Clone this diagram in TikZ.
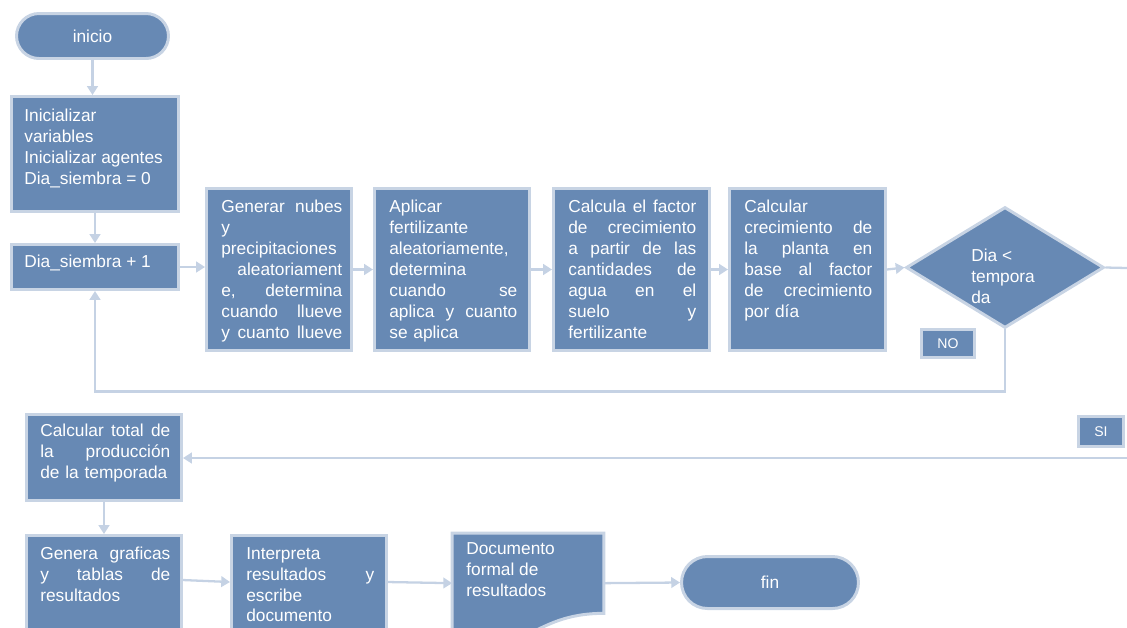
\documentclass[tikz,border=0pt]{standalone}
\usepackage{fontspec}
\setmainfont{Liberation Sans}
\usetikzlibrary{arrows.meta,shapes.geometric,calc}
\definecolor{boxfill}{RGB}{103,137,180}
\definecolor{boxedge}{RGB}{200,212,228}
\definecolor{linec}{RGB}{197,210,228}
\newcommand{\mainfs}{\fontsize{9.85pt}{11.9pt}\selectfont}
\newcommand{\smallfs}{\fontsize{8pt}{9.6pt}\selectfont}
\begin{document}
\begin{tikzpicture}[x=0.02cm,y=-0.02cm,
  box/.style={draw=boxedge, line width=1.7pt, fill=boxfill, rectangle, inner sep=0pt},
  term/.style={box, rounded corners=#1, text=white, font=\mainfs},
  txt/.style={inner sep=0pt, anchor=north west, text=white, align=left, font=\mainfs},
  tag/.style={box, line width=1.2pt, text=white, font=\smallfs},
  link/.style={draw=linec, line width=1.3pt},
  arr/.style={link, -{Triangle[length=5pt,width=6pt]}},
]
\useasboundingbox (0,0) rectangle (1127,627);
\clip (0,0) rectangle (1127,627);

% nodes
\node[term=0.45cm, minimum width=3.04cm, minimum height=0.9cm] (inicio) at (92.5,36) {inicio};
\node[box, minimum width=3.34cm, minimum height=2.3cm] (init) at (95,154) {};
\node[box, minimum width=3.34cm, minimum height=0.9cm] (dia) at (95,267) {};
\node[box, minimum width=2.9cm, minimum height=3.24cm] (gen) at (279,269.5) {};
\node[box, minimum width=3.1cm, minimum height=3.24cm] (apl) at (452,269.5) {};
\node[box, minimum width=3.12cm, minimum height=3.24cm] (cal1) at (631.5,269.5) {};
\node[box, minimum width=3.12cm, minimum height=3.24cm] (cal2) at (807.5,269.5) {};
\node[box, shape=diamond, minimum width=3.96cm, minimum height=2.42cm] (dec) at (1005,267.5) {};
\node[tag, minimum width=1.06cm, minimum height=0.56cm] (no) at (948,343.5) {NO};
\node[tag, minimum width=0.9cm, minimum height=0.6cm] (si) at (1101,431.5) {SI};
\node[box, minimum width=3.1cm, minimum height=1.72cm] (tot) at (104,457.5) {};
\node[box, minimum width=3.1cm, minimum height=2.98cm] (gra) at (104,610) {};
\node[box, minimum width=3.1cm, minimum height=2.98cm] (int) at (309,610) {};
\node[inner sep=0pt, minimum width=3.02cm, minimum height=1.59cm] (doc) at (528,573.25) {};
\fill[boxfill] (doc.north west) -- (doc.north east) -- (doc.south east)
  .. controls ($(doc.south)+(0,0)$) and ($(doc.south)+(0,48)$) .. ($(doc.south west)+(0,22)$) -- cycle;
\draw[boxedge, line width=1.7pt] ($(doc.south west)+(0,22)$) -- (doc.north west) -- (doc.north east) -- (doc.south east)
  .. controls ($(doc.south)+(0,0)$) and ($(doc.south)+(0,48)$) .. ($(doc.south west)+(0,22)$);
\node[term=0.52cm, minimum width=3.54cm, minimum height=1.04cm] (fin) at (770,582.5) {fin};

% texts
\node[txt] (init-t) at (24,109) {Inicializar\\variables\\Inicializar agentes\\Dia\_siembra = 0};
\node[txt] (dia-t) at (24,255) {Dia\_siembra + 1};
\node[txt, text width=2.42cm] (gen-t) at (221,200) {Generar \hfill nubes\\y\\precipitaciones\\\hfill aleatoriament\\e, \hfill determina\\cuando \hfill llueve\\y \hfill cuanto \hfill llueve};
\node[txt, text width=2.56cm] (apl-t) at (389,200) {Aplicar\\fertilizante\\aleatoriamente,\\determina\\cuando \hfill se\\aplica \hfill y \hfill cuanto\\se aplica};
\node[txt, text width=2.56cm] (cal1-t) at (568,200) {Calcula \hfill el \hfill factor\\de \hfill crecimiento\\a \hfill partir \hfill de \hfill las\\cantidades \hfill de\\agua \hfill en \hfill el\\suelo \hfill y\\fertilizante};
\node[txt, text width=2.56cm] (cal2-t) at (744,200) {Calcular\\crecimiento \hfill de\\la \hfill planta \hfill en\\base \hfill al \hfill factor\\de \hfill crecimiento\\por día};
\node[txt] (dec-t) at (971,249) {Dia \textless\\tempora\\da};
\node[txt, text width=2.6cm] (tot-t) at (40,424) {Calcular \hfill total \hfill de\\la \hfill producción\\de la temporada};
\node[txt, text width=2.6cm] (gra-t) at (40,547) {Genera \hfill graficas\\y \hfill tablas \hfill de\\resultados};
\node[txt, text width=2.56cm] (int-t) at (246,547) {Interpreta\\resultados \hfill y\\escribe\\documento};
\node[txt] (doc-t) at (466,542) {Documento\\formal de\\resultados};

% connectors
\coordinate (edgeA) at (1127,268);
\coordinate (edgeB) at (1127,458);
\draw[arr] (inicio.south) -- (inicio.south |- init.north);
\draw[arr] (init.south) -- (dia.north);
\draw[arr] (dia.east) -- (gen.west |- dia.east);
\draw[arr] (gen.east) -- (apl.west);
\draw[arr] (apl.east) -- (cal1.west);
\draw[arr] (cal1.east) -- (cal2.west);
\draw[arr] (cal2.east) -- (dec.west);
\draw[link] (dec.east) -- (edgeA);
\draw[arr] (dec.south) -- ++(0,62) -| (dia.south);
\draw[arr] (edgeB) -- (edgeB -| tot.east);
\draw[arr] (tot.south) -- (gra.north);
\draw[arr] ($(gra.north east)+(0,46)$) -- ($(int.north west)+(0,48)$);
\draw[arr] ($(int.north east)+(0,48)$) -- ($(doc.north west)+(0,50)$);
\draw[arr] ($(doc.north east)+(0,50)$) -- (fin.west);
\end{tikzpicture}
\end{document}
